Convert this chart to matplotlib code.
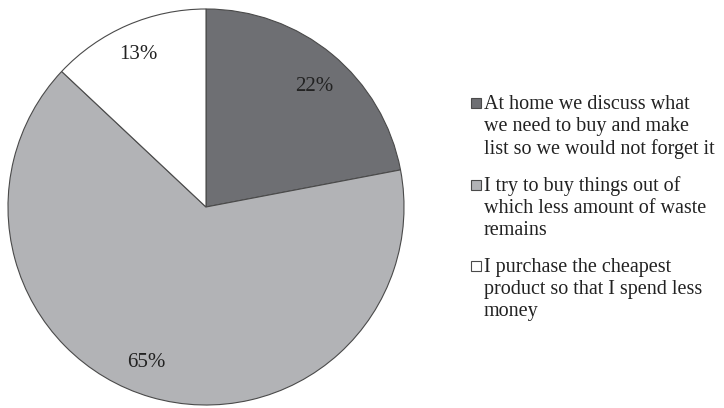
import matplotlib
matplotlib.use("Agg")
import matplotlib.pyplot as plt
from matplotlib.patches import Rectangle

plt.rcParams["font.family"] = ["Liberation Serif", "DejaVu Serif"]

# shopping habits survey, share of answers
labels = [
    "At home we discuss what\nwe need to buy and make\nlist so we would not forget it",
    "I try to buy things out of\nwhich less amount of waste\nremains",
    "I purchase the cheapest\nproduct so that I spend less\nmoney",
]
shares = [22, 65, 13]
colors = ["#6e6f73", "#b2b3b6", "#ffffff"]

W, H = 724, 408
fig = plt.figure(figsize=(W / 100, H / 100), dpi=100)
ax = fig.add_axes([7 / W, (H - 406) / H, 398 / W, 398 / H])

wedges, texts, autotexts = ax.pie(
    shares, colors=colors, startangle=90, counterclock=False,
    autopct="%d%%", pctdistance=0.83,
    wedgeprops=dict(edgecolor="#4a4a4a", linewidth=0.8),
    textprops=dict(fontsize=15, color="#222222"),
)
ax.set_xlim(-1.005, 1.005)
ax.set_ylim(-1.005, 1.005)

# small nudges (axes data units) so labels sit where the layout wants them
nudges = [(0.02, -0.03), (-0.07, 0.01), (-0.01, 0.01)]
for t, (dx, dy) in zip(autotexts, nudges):
    x, y = t.get_position()
    t.set_position((x + dx, y + dy))

# legend drawn by hand so each key square sits on the first line of its label
x0, y0, step = 471, 109, 81.5
for i, (lab, c) in enumerate(zip(labels, colors)):
    yb = y0 + i * step
    fig.patches.append(Rectangle((x0 / W, 1 - (yb - 1) / H), 10 / W, 10 / H,
                                 transform=fig.transFigure, facecolor=c,
                                 edgecolor="#4a4a4a", linewidth=0.8))
    fig.text((x0 + 13) / W, 1 - (yb - 14) / H, lab, fontsize=14.5, color="#222222",
             va="top", ha="left", linespacing=1.21)

fig.savefig("out.png", dpi=100, facecolor="white")
